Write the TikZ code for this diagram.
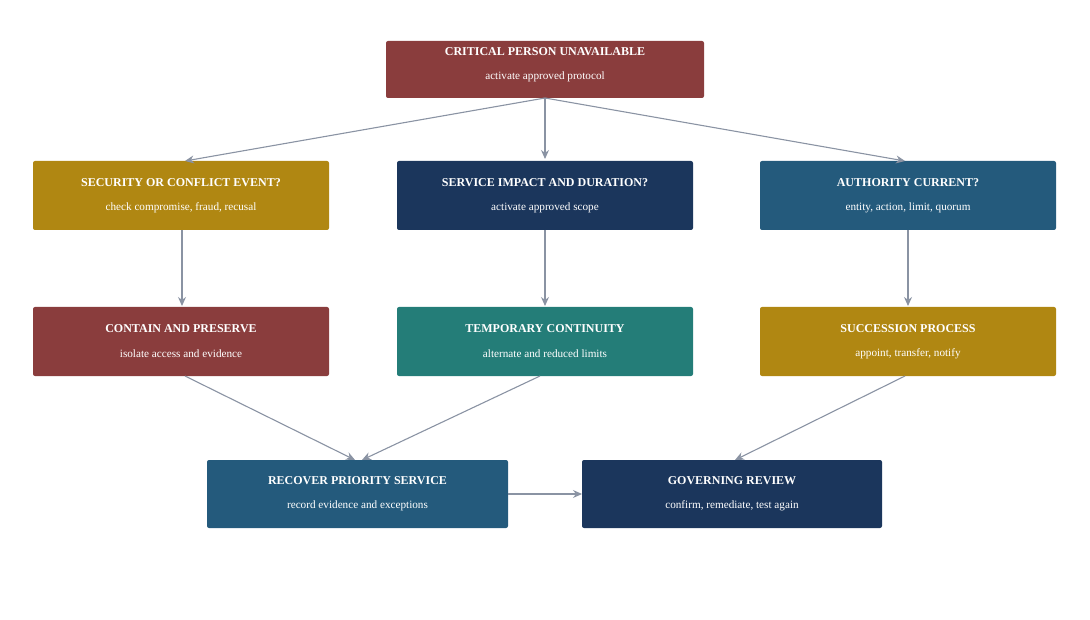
\documentclass[tikz,border=0pt]{standalone}
\usepackage{fontspec}
\setmainfont{Liberation Serif}
\usetikzlibrary{arrows.meta}
\definecolor{cred}{HTML}{8A3D3D}
\definecolor{cgold}{HTML}{B08712}
\definecolor{cnavy}{HTML}{1B365C}
\definecolor{cblue}{HTML}{245A7C}
\definecolor{cteal}{HTML}{247D78}
\definecolor{cline}{HTML}{8A93A3}
\tikzset{
 box/.style={rounded corners=2pt,draw=none},
 ttl/.style={text=white,font=\bfseries\fontsize{12}{14}\selectfont},
 sub/.style={text=white,font=\fontsize{11.2}{13}\selectfont},
 arr/.style={draw=cline,line width=1.1pt,-{Stealth[length=9pt,width=8pt]}}
}
\newcommand{\mybox}[8]{% name, x1,y1,x2,y2,color,title,sub
 \fill[box,#6] (#2,#3) rectangle (#4,#5);
 \coordinate (#1) at ({(#2+#4)/2},{(#3+#5)/2});
 \node[ttl] (#1t) at ({(#2+#4)/2},{(#3+#5)/2-13}) {#7};
 \node[sub] (#1s) at ({(#2+#4)/2},{(#3+#5)/2+12}) {#8};
}
\begin{document}
\begin{tikzpicture}[x=1pt,y=-1pt]
\useasboundingbox (0,0) rectangle (1090,620);
\fill[box,cred] (386,41) rectangle (704,98);
\node[ttl] (topt) at (545,52) {CRITICAL PERSON UNAVAILABLE};
\node[sub] (tops) at (545,77) {activate approved protocol};
\mybox{a1}{33}{161}{329}{230}{cgold}{SECURITY OR CONFLICT EVENT?}{check compromise, fraud, recusal}
\mybox{b1}{397}{161}{693}{230}{cnavy}{SERVICE IMPACT AND DURATION?}{activate approved scope}
\mybox{c1}{760}{161}{1056}{230}{cblue}{AUTHORITY CURRENT?}{entity, action, limit, quorum}
\mybox{a2}{33}{307}{329}{376}{cred}{CONTAIN AND PRESERVE}{isolate access and evidence}
\mybox{b2}{397}{307}{693}{376}{cteal}{TEMPORARY CONTINUITY}{alternate and reduced limits}
\mybox{c2}{760}{307}{1056}{376}{cgold}{SUCCESSION PROCESS}{appoint, transfer, notify}
\mybox{r1}{207}{460}{508}{528}{cblue}{RECOVER PRIORITY SERVICE}{record evidence and exceptions}
\mybox{r2}{582}{460}{882}{528}{cnavy}{GOVERNING REVIEW}{confirm, remediate, test again}
\coordinate (topB) at (545,98);
\coordinate (a1T) at (185,161); \coordinate (b1T) at (545,159); \coordinate (c1T) at (905,161);
\coordinate (a1B) at (182,230); \coordinate (a2T) at (182,306);
\coordinate (b1B) at (545,230); \coordinate (b2T) at (545,306);
\coordinate (c1B) at (908,230); \coordinate (c2T) at (908,306);
\coordinate (a2B) at (185,376); \coordinate (b2B) at (540,376); \coordinate (c2B) at (905,376);
\coordinate (r1T) at (355,460); \coordinate (r1T2) at (362,460); \coordinate (r2T) at (735,460);
\coordinate (r1R) at (508,494); \coordinate (r2L) at (582,494);
\draw[arr] (topB) -- (a1T);
\draw[arr] (topB) -- (b1T);
\draw[arr] (topB) -- (c1T);
\draw[arr] (a1B) -- (a2T);
\draw[arr] (b1B) -- (b2T);
\draw[arr] (c1B) -- (c2T);
\draw[arr] (a2B) -- (r1T);
\draw[arr] (b2B) -- (r1T2);
\draw[arr] (c2B) -- (r2T);
\draw[arr] (r1R) -- (r2L);
\end{tikzpicture}
\end{document}
